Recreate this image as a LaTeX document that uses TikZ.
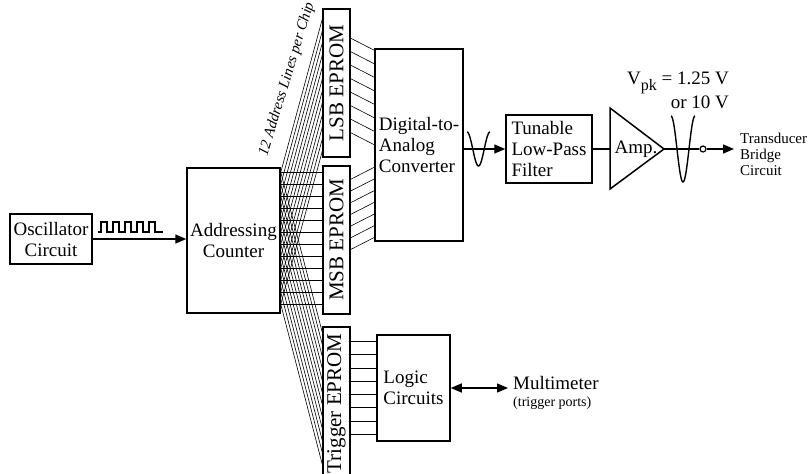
\documentclass[tikz,border=0pt]{standalone}
\usepackage{fontspec}
\usepackage{graphicx}
\setmainfont{Liberation Serif}
\usetikzlibrary{positioning,calc,arrows.meta}

\begin{document}
\begin{tikzpicture}[x=1pt, y=-1pt,
    blockbox/.style={rectangle, draw, line width=1.5pt, inner sep=0pt, align=left, font=\fontsize{19}{21}\selectfont},
    chipbox/.style={rectangle, draw, line width=1.5pt, inner sep=0pt, minimum width=27pt, font=\fontsize{21}{24}\selectfont},
    wire/.style={line width=0.6pt},
    sigline/.style={line width=1.4pt},
    tip/.style={-{Triangle[length=11pt,width=9pt]}},
    ]
    \clip (0,0) rectangle (809,474);

    %Nodes
    \node[blockbox, minimum width=82pt, minimum height=50pt, align=center] (osc) at (51,239) {Oscillator\\Circuit};
    \node[blockbox, minimum width=93pt, minimum height=145pt, align=center] (cnt) at (233.5,240.5) {Addressing\\Counter};
    \node[chipbox, minimum height=148pt] (lsb) at (336.5,83) {\rotatebox{90}{LSB\ EPROM}};
    \node[chipbox, minimum height=148pt] (msb) at (336.5,240) {\rotatebox{90}{MSB\ EPROM}};
    \node[chipbox, minimum height=153pt] (trg) at (336.5,403.5) {\rotatebox{90}{Trigger\ EPROM}};
    \node[blockbox, minimum width=88pt, minimum height=192pt] (dac) at (419,145) {Digital-to-\\Analog\\Converter};
    \node[blockbox, minimum width=86pt, minimum height=68pt] (filt) at (549,149) {Tunable\\Low-Pass\\Filter};
    \node[blockbox, minimum width=73pt, minimum height=106pt] (logic) at (413.5,388) {Logic\\Circuits};
    \coordinate (ampin) at (610,149);
    \coordinate (ampout) at (664,149);
    \node[font=\fontsize{19}{21}\selectfont, inner sep=0pt] (amptxt) at (636,149) {Amp.};
    \node[circle, draw, line width=1.2pt, fill=white, inner sep=0pt, minimum size=6pt] (outpt) at (703,149) {};
    \node[anchor=west, align=left, inner sep=0pt, font=\fontsize{15}{16}\selectfont] (xdcr) at (740,154) {Transducer\\Bridge\\Circuit};
    \node[anchor=east, align=right, inner sep=0pt, font=\fontsize{19}{24}\selectfont] (vpk) at (729,90) {V\raisebox{-6pt}{\fontsize{16}{16}\selectfont pk} = 1.25 V\\or 10 V};
    \node[anchor=west, align=left, inner sep=0pt, font=\fontsize{19}{17}\selectfont] (multi) at (513,393) {Multimeter\\{\fontsize{14}{15}\selectfont (trigger ports)}};
    \node[rotate=73, inner sep=0pt, font=\fontsize{15}{16}\itshape] (nlines) at (287,79) {12 Address Lines per Chip};

    %Lines
    \foreach \i in {0,...,11} {
        \coordinate (a\i) at ($(cnt.north east)+(0,5+12*\i)$);
        \draw[wire] (a\i) -- (a\i -| msb.west);
        \draw[wire] (a\i) -- ($(lsb.north west)+(0,11+12*\i)$);
        \draw[wire] (a\i) -- ($(trg.north west)+(0,6+12*\i)$);
    }
    \foreach \k in {0,...,7}
        \draw[wire] ($(lsb.north east)+(0,30+13.5*\k)$) -- ($(dac.north west)+(0,2+13.5*\k)$);
    \foreach \k in {0,...,6}
        \draw[wire] ($(msb.north east)+(0,14+11.7*\k)$) -- ($(dac.north west)+(0,119+11.7*\k)$);
    \foreach \k in {0,...,7} {
        \coordinate (b\k) at ($(logic.north west)+(0,7+13.3*\k)$);
        \draw[wire] (b\k) -- (b\k -| trg.east);
    }

    \draw[sigline, tip] (osc.east) -- (osc.east -| cnt.west);
    \draw[sigline] (98,232) -- (101,232)
        \foreach \i in {0,...,4} { -- ++(0,-10) -- ++(6,0) -- ++(0,10) -- ++(6,0) } -- (163,232);
    \draw[sigline, tip] (dac.east |- filt.west) -- (filt.west);
    \draw[sigline] plot[domain=0:360, samples=50] ({467+23*\x/360},{149-17*cos(\x)});
    \draw[sigline] (filt.east) -- (ampin);
    \draw[line width=1.5pt] (ampin) ++(0,-41) -- (ampout) -- ($(ampin)+(0,40)$) -- cycle;
    \draw[sigline] (ampout) -- (outpt.west);
    \draw[sigline] plot[domain=0:360, samples=60] ({671+24*\x/360},{149-33*cos(\x)});
    \draw[sigline, tip, shorten >=6pt] (outpt.east) -- (outpt.east -| xdcr.west);
    \draw[sigline, {Triangle[length=11pt,width=9pt]}-{Triangle[length=11pt,width=9pt]}, shorten >=5pt] (logic.east) -- (logic.east -| multi.west);
\end{tikzpicture}
\end{document}
